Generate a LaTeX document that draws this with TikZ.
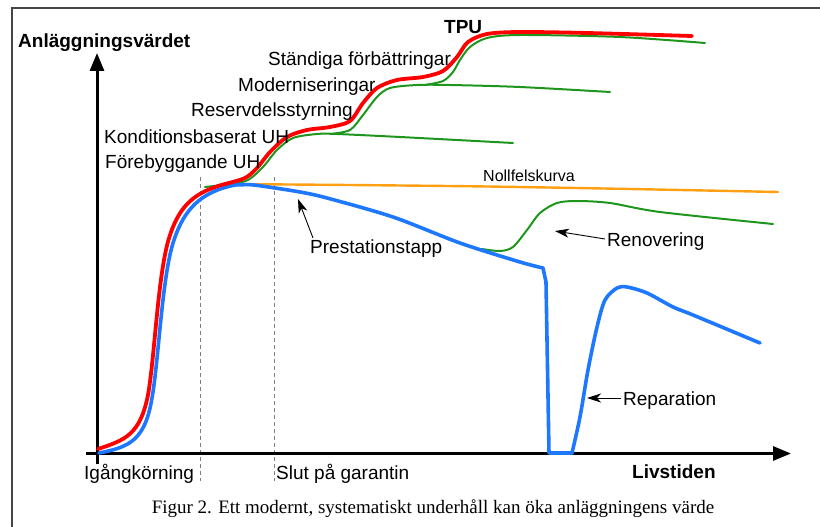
\documentclass[tikz,border=0pt]{standalone}
\usepackage{fontspec}
\setmainfont{Liberation Sans}
\newfontfamily\capfont{Liberation Serif}
\usetikzlibrary{arrows.meta}
\definecolor{tpured}{RGB}{255,0,0}
\definecolor{perfblue}{RGB}{30,120,255}
\definecolor{stepgreen}{RGB}{30,150,30}
\definecolor{zeroorange}{RGB}{255,160,20}
\definecolor{framegray}{RGB}{70,70,70}
\tikzset{
  lbl/.style={anchor=base west, inner sep=0pt, font=\fontsize{19}{22}\selectfont},
  boldlbl/.style={lbl, font=\fontsize{19}{22}\selectfont\bfseries},
  axisline/.style={line width=3pt, -{Triangle[length=18pt,width=14pt]}},
  guide/.style={gray, line width=1pt, dash pattern=on 4pt off 3pt},
  lblarrow/.style={line width=0.9pt, -{Stealth[length=14pt,width=9pt,inset=4pt]}},
  redcurve/.style={tpured, line width=3.8pt, line cap=round},
  bluecurve/.style={perfblue, line width=3.6pt, line cap=round, line join=round},
  greencurve/.style={stepgreen, line width=2pt, line cap=round},
  orangecurve/.style={zeroorange, line width=2.4pt, line cap=round},
}
\begin{document}
\begin{tikzpicture}[x=1pt,y=-1pt]
\useasboundingbox (0,0) rectangle (820,527);
% frame
\draw[framegray, line width=1.5pt] (12,527) -- (12,8) -- (820,8);
% guides
\coordinate (g1t) at (200,177); \coordinate (g1b) at (200,481);
\coordinate (g2t) at (274,177); \coordinate (g2b) at (274,481);
\draw[guide] (g1t) -- (g1b);
\draw[guide] (g2t) -- (g2b);
% axes
\coordinate (yb) at (97,464); \coordinate (yt) at (97,53);
\coordinate (xl) at (86,453.5); \coordinate (xr) at (791,453.5);
\draw[axisline] (yb) -- (yt);
\draw[axisline] (xl) -- (xr);
% orange zero-fault curve
\draw[orangecurve] plot[smooth, tension=0.5] coordinates {(222,184) (350,185) (487,186.5) (630,189) (778,192)};
% green step curves
\draw[greencurve] plot[smooth, tension=0.5] coordinates {(205,187) (230,184) (248,180) (263,167) (277,150) (293,138) (317,134) (337,134) (400,137) (513,143)};
\draw[greencurve] plot[smooth, tension=0.5] coordinates {(330,134) (350,130) (363,115) (377,97) (390,88) (417,85) (450,85) (520,87) (610,92)};
\draw[greencurve] plot[smooth, tension=0.5] coordinates {(425,85) (443,81) (453,72) (460,60) (470,47) (487,38) (520,35) (620,37) (705,43)};
\draw[greencurve] plot[smooth, tension=0.5] coordinates {(482,249) (500,251) (513,247) (527,230) (540,213) (557,203) (577,201) (610,203) (660,212) (773,224)};
% blue performance curve
\draw[bluecurve] (99,453) .. controls (130,447) and (145,440) .. (152,398)
  .. controls (159,358) and (162,275) .. (174,240)
  .. controls (184,210) and (200,192) .. (235,185);
\draw[bluecurve] plot[smooth, tension=0.5] coordinates {(235,185) (250,184.7) (265,186.5) (300,192) (327,198) (393,217) (460,243) (520,262) (543,268)} -- (546,282) -- (549,453) -- (572,453);
\draw[bluecurve] plot[smooth, tension=0.5] coordinates {(572,453) (580,417) (588,370) (597,327) (605,300) (617,288) (627,287) (647,293) (673,307) (693,315) (760,343)};
% red TPU curve
\draw[redcurve] (98,449) .. controls (125,440) and (140,435) .. (148,395)
  .. controls (155,355) and (158,270) .. (170,235)
  .. controls (180,205) and (195,192) .. (225,184);
\draw[redcurve] plot[smooth, tension=0.5] coordinates {(225,184) (245,178) (257,168) (270,152) (287,137) (307,130) (330,127) (350,121) (363,103) (377,88) (397,80) (423,77) (443,71) (457,57) (468,42) (487,34) (520,32) (587,33) (692,36)};
% labels
\node[boldlbl] (yl) at (18,48) {Anläggningsvärdet};
\node[boldlbl] (tpu) at (444,34) {TPU};
\node[lbl] (sf) at (268,66) {Ständiga förbättringar};
\node[lbl] (mod) at (238,92) {Moderniseringar};
\node[lbl] (res) at (191,117) {Reservdelsstyrning};
\node[lbl] (kon) at (104,143) {Konditionsbaserat UH};
\node[lbl] (fore) at (105,168) {Förebyggande UH};
\node[lbl, font=\fontsize{16}{19}\selectfont] (noll) at (483,181) {Nollfelskurva};
\node[lbl] (pres) at (310,253) {Prestationstapp};
\node[lbl] (ren) at (607,246) {Renovering};
\node[lbl] (rep) at (623,405) {Reparation};
\node[lbl] (ig) at (84,479) {Igångkörning};
\node[lbl] (slut) at (276,479) {Slut på garantin};
\node[boldlbl] (liv) at (632,478) {Livstiden};
\node[anchor=base, inner sep=0pt, font=\capfont\fontsize{19}{22}\selectfont] (cap) at (433,513) {Figur 2. Ett modernt, systematiskt underhåll kan öka anläggningens värde};
% label arrows
\coordinate (prest) at (313,238); \coordinate (pretip) at (298,199);
\draw[lblarrow] (prest) -- (pretip);
\coordinate (rent) at (605,239); \coordinate (rentip) at (555,231);
\draw[lblarrow] (rent) -- (rentip);
\coordinate (rept) at (621,398); \coordinate (reptip) at (587,398);
\draw[lblarrow] (rept) -- (reptip);
\end{tikzpicture}
\end{document}
